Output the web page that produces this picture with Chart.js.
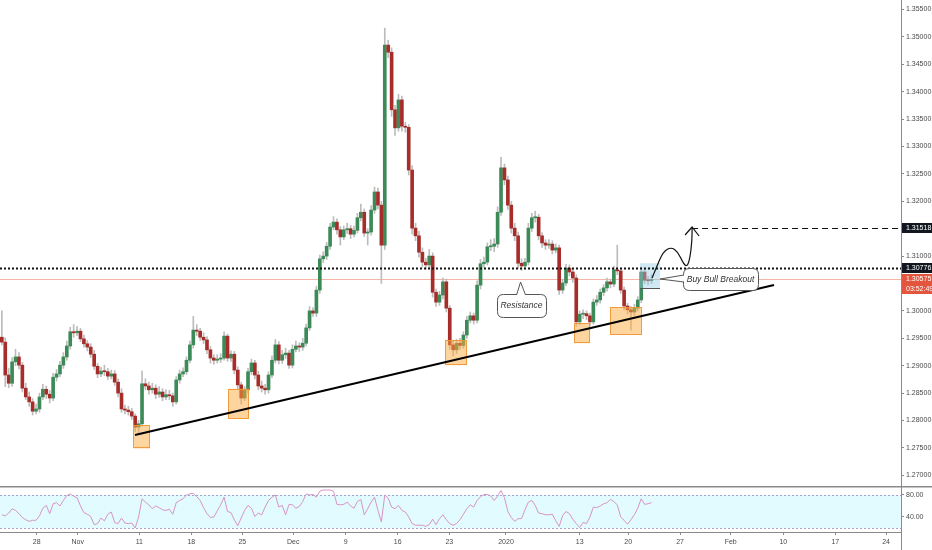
<!DOCTYPE html>
<html>
<head>
<meta charset="utf-8">
<title>GBPUSD 4H</title>
<script src="https://cdn.jsdelivr.net/npm/chart.js@4.4.1/dist/chart.umd.min.js"></script>
<style>
  html, body { margin: 0; padding: 0; background: #fff; }
  .wrap { position: relative; width: 932px; height: 550px; overflow: hidden; }
  #price { position: absolute; left: 0; top: 0; }
  #rsi { position: absolute; left: 0; top: 486px; }
</style>
</head>
<body>
<div class="wrap">
  <canvas id="price" width="932" height="486"></canvas>
  <canvas id="rsi" width="932" height="64"></canvas>
</div>
<script>
// candles (3 per trading day)
const OPEN = [
  1.2952, 1.2943, 1.2883, 1.2868, 1.2907, 1.2916, 1.2901, 1.2859, 1.2843, 1.2834,
  1.2817, 1.2821, 1.2843, 1.2857, 1.2848, 1.2841, 1.2879, 1.2885, 1.2901, 1.2916,
  1.2936, 1.2962, 1.2960, 1.2963, 1.2949, 1.2940, 1.2934, 1.2921, 1.2899, 1.2885,
  1.2890, 1.2889, 1.2881, 1.2885, 1.2870, 1.2850, 1.2821, 1.2819, 1.2816, 1.2808,
  1.2788, 1.2794, 1.2867, 1.2863, 1.2856, 1.2859, 1.2848, 1.2852, 1.2843, 1.2847,
  1.2845, 1.2834, 1.2874, 1.2885, 1.2889, 1.2910, 1.2938, 1.2965, 1.2963, 1.2952,
  1.2947, 1.2929, 1.2914, 1.2910, 1.2912, 1.2914, 1.2954, 1.2914, 1.2921, 1.2892,
  1.2865, 1.2841, 1.2856, 1.2889, 1.2905, 1.2883, 1.2863, 1.2859, 1.2856, 1.2883,
  1.2910, 1.2938, 1.2910, 1.2920, 1.2923, 1.2901, 1.2930, 1.2936, 1.2934, 1.2941,
  1.2969, 1.3000, 1.2996, 1.3038, 1.3095, 1.3100, 1.3118, 1.3153, 1.3162, 1.3148,
  1.3135, 1.3148, 1.3150, 1.3140, 1.3147, 1.3170, 1.3180, 1.3142, 1.3144, 1.3184,
  1.3217, 1.3193, 1.3120, 1.3485, 1.3472, 1.3367, 1.3334, 1.3385, 1.3337, 1.3335,
  1.3257, 1.3151, 1.3137, 1.3107, 1.3089, 1.3084, 1.3100, 1.3034, 1.3016, 1.3029,
  1.3053, 1.3005, 1.2938, 1.2929, 1.2941, 1.2937, 1.2956, 1.2983, 1.2991, 1.2983,
  1.3047, 1.3086, 1.3089, 1.3117, 1.3118, 1.3122, 1.3180, 1.3261, 1.3239, 1.3193,
  1.3151, 1.3137, 1.3087, 1.3082, 1.3089, 1.3151, 1.3170, 1.3171, 1.3137, 1.3124,
  1.3120, 1.3122, 1.3111, 1.3115, 1.3038, 1.3051, 1.3078, 1.3071, 1.3060, 1.2980,
  1.2994, 1.2995, 1.2991, 1.2980, 1.3016, 1.3020, 1.3034, 1.3042, 1.3053, 1.3049,
  1.3075, 1.3073, 1.3038, 1.3009, 1.3002, 1.2998, 1.3005, 1.3020, 1.3071, 1.3056,
  1.3055
];
const HIGH = [
  1.3000, 1.2951, 1.2895, 1.2915, 1.2930, 1.2924, 1.2906, 1.2868, 1.2852, 1.2840,
  1.2830, 1.2850, 1.2866, 1.2863, 1.2855, 1.2886, 1.2893, 1.2908, 1.2924, 1.2945,
  1.2970, 1.2975, 1.2972, 1.2968, 1.2956, 1.2946, 1.2940, 1.2928, 1.2904, 1.2897,
  1.2901, 1.2895, 1.2892, 1.2891, 1.2876, 1.2858, 1.2828, 1.2826, 1.2822, 1.2812,
  1.2800, 1.2890, 1.2876, 1.2870, 1.2868, 1.2865, 1.2862, 1.2858, 1.2856, 1.2855,
  1.2850, 1.2880, 1.2892, 1.2896, 1.2916, 1.2945, 1.2990, 1.2975, 1.2968, 1.2960,
  1.2953, 1.2935, 1.2920, 1.2920, 1.2922, 1.2962, 1.2958, 1.2927, 1.2926, 1.2898,
  1.2870, 1.2862, 1.2895, 1.2912, 1.2910, 1.2890, 1.2872, 1.2866, 1.2889, 1.2918,
  1.2948, 1.2944, 1.2928, 1.2932, 1.2928, 1.2938, 1.2945, 1.2942, 1.2950, 1.2976,
  1.3008, 1.3006, 1.3045, 1.3102, 1.3108, 1.3125, 1.3160, 1.3172, 1.3168, 1.3154,
  1.3155, 1.3160, 1.3156, 1.3155, 1.3178, 1.3195, 1.3186, 1.3150, 1.3192, 1.3226,
  1.3224, 1.3200, 1.3516, 1.3494, 1.3480, 1.3375, 1.3395, 1.3392, 1.3344, 1.3340,
  1.3265, 1.3160, 1.3145, 1.3115, 1.3096, 1.3112, 1.3106, 1.3040, 1.3036, 1.3060,
  1.3058, 1.3010, 1.2945, 1.2948, 1.2950, 1.2962, 1.2990, 1.2998, 1.2996, 1.3055,
  1.3094, 1.3098, 1.3124, 1.3130, 1.3132, 1.3190, 1.3280, 1.3268, 1.3246, 1.3200,
  1.3160, 1.3144, 1.3095, 1.3096, 1.3160, 1.3178, 1.3182, 1.3176, 1.3143, 1.3130,
  1.3130, 1.3128, 1.3122, 1.3120, 1.3058, 1.3085, 1.3084, 1.3077, 1.3066, 1.3000,
  1.3002, 1.3000, 1.2996, 1.3022, 1.3028, 1.3040, 1.3048, 1.3060, 1.3058, 1.3082,
  1.3120, 1.3078, 1.3044, 1.3014, 1.3008, 1.3012, 1.3026, 1.3080, 1.3077, 1.3063,
  1.3066
];
const LOW = [
  1.2938, 1.2862, 1.2860, 1.2862, 1.2900, 1.2894, 1.2852, 1.2838, 1.2826, 1.2810,
  1.2812, 1.2815, 1.2838, 1.2840, 1.2832, 1.2836, 1.2872, 1.2880, 1.2895, 1.2910,
  1.2930, 1.2952, 1.2955, 1.2944, 1.2934, 1.2927, 1.2915, 1.2893, 1.2878, 1.2880,
  1.2882, 1.2875, 1.2876, 1.2864, 1.2843, 1.2815, 1.2812, 1.2810, 1.2802, 1.2780,
  1.2775, 1.2790, 1.2856, 1.2848, 1.2850, 1.2840, 1.2842, 1.2836, 1.2838, 1.2838,
  1.2826, 1.2830, 1.2868, 1.2880, 1.2884, 1.2905, 1.2932, 1.2955, 1.2946, 1.2940,
  1.2922, 1.2905, 1.2903, 1.2905, 1.2906, 1.2910, 1.2908, 1.2908, 1.2885, 1.2858,
  1.2830, 1.2836, 1.2850, 1.2884, 1.2876, 1.2856, 1.2852, 1.2848, 1.2850, 1.2878,
  1.2905, 1.2903, 1.2904, 1.2913, 1.2895, 1.2896, 1.2925, 1.2926, 1.2928, 1.2936,
  1.2964, 1.2990, 1.2990, 1.3032, 1.3088, 1.3094, 1.3112, 1.3148, 1.3140, 1.3120,
  1.3130, 1.3141, 1.3132, 1.3135, 1.3142, 1.3164, 1.3136, 1.3120, 1.3138, 1.3178,
  1.3186, 1.3050, 1.3112, 1.3462, 1.3355, 1.3320, 1.3328, 1.3328, 1.3326, 1.3248,
  1.3140, 1.3128, 1.3098, 1.3080, 1.3076, 1.3078, 1.3025, 1.3008, 1.3010, 1.3022,
  1.2998, 1.2930, 1.2918, 1.2922, 1.2930, 1.2932, 1.2950, 1.2978, 1.2976, 1.2978,
  1.3040, 1.3080, 1.3084, 1.3110, 1.3108, 1.3116, 1.3174, 1.3230, 1.3185, 1.3142,
  1.3128, 1.3078, 1.3074, 1.3076, 1.3084, 1.3145, 1.3162, 1.3130, 1.3116, 1.3112,
  1.3114, 1.3104, 1.3106, 1.3030, 1.3032, 1.3046, 1.3064, 1.3052, 1.2972, 1.2975,
  1.2986, 1.2984, 1.2972, 1.2976, 1.3010, 1.3014, 1.3028, 1.3036, 1.3042, 1.3044,
  1.3066, 1.3032, 1.3002, 1.2994, 1.2965, 1.2992, 1.3000, 1.3015, 1.3050, 1.3048,
  1.3050
];
const CLOSE = [
  1.2943, 1.2883, 1.2868, 1.2907, 1.2916, 1.2901, 1.2859, 1.2843, 1.2834, 1.2817,
  1.2821, 1.2843, 1.2857, 1.2848, 1.2841, 1.2879, 1.2885, 1.2901, 1.2916, 1.2936,
  1.2962, 1.2960, 1.2963, 1.2949, 1.2940, 1.2934, 1.2921, 1.2899, 1.2885, 1.2890,
  1.2889, 1.2881, 1.2885, 1.2870, 1.2850, 1.2821, 1.2819, 1.2816, 1.2808, 1.2788,
  1.2794, 1.2867, 1.2863, 1.2856, 1.2859, 1.2848, 1.2852, 1.2843, 1.2847, 1.2845,
  1.2834, 1.2874, 1.2885, 1.2889, 1.2910, 1.2938, 1.2965, 1.2963, 1.2952, 1.2947,
  1.2929, 1.2914, 1.2910, 1.2912, 1.2914, 1.2954, 1.2914, 1.2921, 1.2892, 1.2865,
  1.2841, 1.2856, 1.2889, 1.2905, 1.2883, 1.2863, 1.2859, 1.2856, 1.2883, 1.2910,
  1.2938, 1.2910, 1.2920, 1.2923, 1.2901, 1.2930, 1.2936, 1.2934, 1.2941, 1.2969,
  1.3000, 1.2996, 1.3038, 1.3095, 1.3100, 1.3118, 1.3153, 1.3162, 1.3148, 1.3135,
  1.3148, 1.3150, 1.3140, 1.3147, 1.3170, 1.3180, 1.3142, 1.3144, 1.3184, 1.3217,
  1.3193, 1.3120, 1.3485, 1.3472, 1.3367, 1.3334, 1.3385, 1.3337, 1.3335, 1.3257,
  1.3151, 1.3137, 1.3107, 1.3089, 1.3084, 1.3100, 1.3034, 1.3016, 1.3029, 1.3053,
  1.3005, 1.2938, 1.2929, 1.2941, 1.2937, 1.2956, 1.2983, 1.2991, 1.2983, 1.3047,
  1.3086, 1.3089, 1.3117, 1.3118, 1.3122, 1.3180, 1.3261, 1.3239, 1.3193, 1.3151,
  1.3137, 1.3087, 1.3082, 1.3089, 1.3151, 1.3170, 1.3171, 1.3137, 1.3124, 1.3120,
  1.3122, 1.3111, 1.3115, 1.3038, 1.3051, 1.3078, 1.3071, 1.3060, 1.2980, 1.2994,
  1.2995, 1.2991, 1.2980, 1.3016, 1.3020, 1.3034, 1.3042, 1.3053, 1.3049, 1.3075,
  1.3073, 1.3038, 1.3009, 1.3002, 1.2998, 1.3005, 1.3020, 1.3071, 1.3056, 1.3055,
  1.30575
];
const RSI = [
  44, 42, 47, 55, 52, 46, 39, 35, 32, 34,
  34, 42, 56, 61, 46, 64, 66, 60, 70, 79,
  82, 78, 75, 60, 48, 45, 41, 26, 28, 38,
  33, 45, 49, 30, 28, 38, 29, 28, 29, 20,
  40, 73, 67, 62, 55, 60, 57, 53, 52, 54,
  45, 66, 70, 73, 80, 82, 83, 77, 70, 57,
  46, 39, 40, 51, 62, 76, 50, 48, 35, 24,
  38, 52, 61, 56, 41, 47, 44, 58, 70, 76,
  80, 58, 61, 44, 63, 62, 56, 59, 68, 82,
  80, 81, 76, 87, 89, 89, 89, 87, 63, 62,
  63, 67, 60, 56, 68, 72, 44, 55, 67, 76,
  52, 31, 80, 74, 58, 55, 61, 52, 49, 40,
  28, 25, 25, 25, 23, 26, 36, 26, 37, 44,
  35, 28, 25, 28, 35, 45, 55, 62, 58, 70,
  77, 81, 81, 78, 70, 78, 88, 75, 50, 39,
  32, 37, 37, 53, 67, 70, 61, 47, 46, 44,
  44, 45, 33, 23, 42, 50, 46, 36, 28, 21,
  30, 28, 40, 58, 57, 60, 64, 66, 72, 68,
  62, 40, 34, 27, 35, 44, 56, 73, 63, 64,
  66
];

// x axis in trading days (0 = Mon 21 Oct 2019)
const CANDLE_START = 1.6;
const CANDLES_PER_DAY = 3;
const X_MIN = 1.42;
const X_MAX = 89.26;
const TICK_DAYS = [5, 9, 15, 20.07, 25.04, 30, 35.12, 40.19, 45.22, 50.75, 57.94, 62.67, 67.72, 72.66, 77.79, 82.86, 87.8];
const TICK_LABELS = ['28', 'Nov', '11', '18', '25', 'Dec', '9', '16', '23', '2020', '13', '20', '27', 'Feb', '10', '17', '24'];

const Y_MIN = 1.26805;
const Y_MAX = 1.35673;
const PRICE_TICKS = [1.27, 1.275, 1.28, 1.285, 1.29, 1.295, 1.3, 1.305, 1.31, 1.315, 1.32, 1.325, 1.33, 1.335, 1.34, 1.345, 1.35, 1.355];
const RSI_MIN = 12.7;
const RSI_MAX = 94.5;
const RSI_TICKS = [40, 80];
const RSI_BAND = [20, 80];

const RESISTANCE = 1.30776;
const TARGET = 1.31518;
const LAST_PRICE = 1.30575;
const COUNTDOWN = '03:52:49';

// drawings: [day, price]
const TRENDLINE = [[14.58, 1.27736], [76.88, 1.30473]];
const ZONES = [
  [14.4, 16.05, 1.2749, 1.2791],
  [23.65, 25.7, 1.2803, 1.2858],
  [44.8, 46.95, 1.2901, 1.2947],
  [57.4, 58.95, 1.2941, 1.2978],
  [60.9, 64.0, 1.2956, 1.3007]
];
const ENTRY_BOX = [63.82, 65.77, 1.3042, 1.3087];
const PROJECTION = [
  [64.99, 1.3060], [65.47, 1.30819], [66.06, 1.31075], [66.84, 1.31166], [67.52, 1.31075],
  [68.01, 1.30874], [68.40, 1.30801], [68.69, 1.30966], [68.89, 1.31294], [68.89, 1.31531]
];
const RESISTANCE_NOTE = { text: 'Resistance', at: [52.17, 1.30527] };
const BREAKOUT_NOTE = { text: 'Buy Bull Breakout', at: [65.77, 1.30582] };

const UP = '#3c8a57';
const DOWN = '#a62d29';
const WICK = '#bcbcbc';
const AXIS = '#8a8a8a';
const LABEL = '#4a4a4a';
const FONT = '"Liberation Sans", Arial, sans-serif';

Chart.defaults.font.family = FONT;

const candleDay = (i) => CANDLE_START + i / CANDLES_PER_DAY;

function hline(ctx, x0, x1, y) {
  const yy = Math.round(y) + 0.5;
  ctx.beginPath();
  ctx.moveTo(x0, yy);
  ctx.lineTo(x1, yy);
  ctx.stroke();
}

function roundRect(ctx, l, t, r, b, rad) {
  ctx.beginPath();
  ctx.moveTo(l + rad, t);
  ctx.lineTo(r - rad, t);
  ctx.quadraticCurveTo(r, t, r, t + rad);
  ctx.lineTo(r, b - rad);
  ctx.quadraticCurveTo(r, b, r - rad, b);
  ctx.lineTo(l + rad, b);
  ctx.quadraticCurveTo(l, b, l, b - rad);
  ctx.lineTo(l, t + rad);
  ctx.quadraticCurveTo(l, t, l + rad, t);
  ctx.closePath();
}

// speech bubble: box in px, pointer from two base points to the tip
function bubble(ctx, tip, box, base, text) {
  ctx.save();
  ctx.lineWidth = 1;
  ctx.strokeStyle = '#555';
  ctx.fillStyle = '#fff';
  roundRect(ctx, box.l + 0.5, box.t + 0.5, box.r + 0.5, box.b + 0.5, 6);
  ctx.fill();
  ctx.stroke();
  ctx.beginPath();
  ctx.moveTo(base[0][0], base[0][1]);
  ctx.lineTo(tip.x, tip.y);
  ctx.lineTo(base[1][0], base[1][1]);
  ctx.closePath();
  ctx.fill();
  ctx.beginPath();
  ctx.moveTo(base[0][0], base[0][1]);
  ctx.lineTo(tip.x, tip.y);
  ctx.lineTo(base[1][0], base[1][1]);
  ctx.stroke();
  ctx.fillStyle = '#333';
  ctx.font = 'italic 8.5px ' + FONT;
  ctx.textAlign = 'center';
  ctx.textBaseline = 'middle';
  ctx.fillText(text, (box.l + box.r) / 2, (box.t + box.b) / 2 + 0.5);
  ctx.restore();
}

const priceOverlay = {
  id: 'priceOverlay',
  beforeDatasetsDraw(chart) {
    const { ctx, chartArea, scales: { y } } = chart;
    ctx.save();
    ctx.strokeStyle = '#f6b4a4';
    ctx.lineWidth = 1;
    hline(ctx, chartArea.left, chartArea.right, y.getPixelForValue(LAST_PRICE));
    ctx.restore();
  },
  afterDatasetsDraw(chart) {
    const { ctx, chartArea, scales: { x, y } } = chart;
    const px = (v) => x.getPixelForValue(v);
    const py = (v) => y.getPixelForValue(v);
    ctx.save();

    ZONES.forEach(([d0, d1, p0, p1]) => {
      const l = px(d0), r = px(d1), t = py(p1), b = py(p0);
      ctx.fillStyle = 'rgba(255, 172, 64, 0.5)';
      ctx.fillRect(l, t, r - l, b - t);
      ctx.strokeStyle = 'rgba(240, 150, 50, 0.9)';
      ctx.lineWidth = 1;
      ctx.strokeRect(Math.round(l) + 0.5, Math.round(t) + 0.5, Math.round(r - l) - 1, Math.round(b - t) - 1);
    });

    // entry box
    {
      const [d0, d1, p0, p1] = ENTRY_BOX;
      const l = px(d0), r = px(d1), t = py(p1), b = py(p0);
      ctx.fillStyle = 'rgba(150, 205, 230, 0.45)';
      ctx.fillRect(l, t, r - l, b - t);
      ctx.strokeStyle = '#555';
      ctx.lineWidth = 1;
      hline(ctx, l, r, b);
    }

    // resistance level
    ctx.strokeStyle = '#111';
    ctx.lineWidth = 2;
    ctx.setLineDash([2, 2]);
    hline(ctx, chartArea.left, chartArea.right, py(RESISTANCE));

    // target level
    const tip = PROJECTION[PROJECTION.length - 1];
    ctx.lineWidth = 1.2;
    ctx.setLineDash([6, 4]);
    hline(ctx, px(tip[0]), chartArea.right, py(TARGET));
    ctx.setLineDash([]);

    // trendline
    ctx.strokeStyle = '#000';
    ctx.lineWidth = 2;
    ctx.beginPath();
    ctx.moveTo(px(TRENDLINE[0][0]), py(TRENDLINE[0][1]));
    ctx.lineTo(px(TRENDLINE[1][0]), py(TRENDLINE[1][1]));
    ctx.stroke();

    // projected path
    const pts = PROJECTION.map(([d, p]) => ({ x: px(d), y: py(p) }));
    ctx.lineWidth = 1.2;
    ctx.strokeStyle = '#111';
    ctx.beginPath();
    ctx.moveTo(pts[0].x, pts[0].y);
    for (let i = 1; i < pts.length - 1; i++) {
      const mx = (pts[i].x + pts[i + 1].x) / 2;
      const my = (pts[i].y + pts[i + 1].y) / 2;
      ctx.quadraticCurveTo(pts[i].x, pts[i].y, mx, my);
    }
    ctx.lineTo(pts[pts.length - 1].x, pts[pts.length - 1].y);
    ctx.stroke();
    const end = pts[pts.length - 1];
    ctx.beginPath();
    ctx.moveTo(end.x - 7, end.y + 8);
    ctx.lineTo(end.x, end.y);
    ctx.lineTo(end.x + 7, end.y + 9);
    ctx.stroke();

    // notes
    const r = { x: px(RESISTANCE_NOTE.at[0]), y: py(RESISTANCE_NOTE.at[1]) };
    bubble(ctx, r,
      { l: Math.round(r.x - 24), r: Math.round(r.x + 25), t: Math.round(r.y + 12), b: Math.round(r.y + 35) },
      [[r.x - 4, r.y + 13], [r.x + 5, r.y + 13]], RESISTANCE_NOTE.text);

    const b = { x: px(BREAKOUT_NOTE.at[0]), y: py(BREAKOUT_NOTE.at[1]) };
    bubble(ctx, b,
      { l: Math.round(b.x + 23), r: Math.round(b.x + 98), t: Math.round(b.y - 11), b: Math.round(b.y + 11) },
      [[b.x + 24, b.y - 4], [b.x + 24, b.y + 3]], BREAKOUT_NOTE.text);

    ctx.restore();
  },
  afterDraw(chart) {
    const { ctx, chartArea, scales: { y } } = chart;
    const tag = (yy, text, bg) => {
      ctx.fillStyle = bg;
      ctx.fillRect(chartArea.right + 1, Math.round(yy - 5), chart.width - chartArea.right - 1, 10);
      ctx.fillStyle = '#fff';
      ctx.font = '7px ' + FONT;
      ctx.textBaseline = 'middle';
      ctx.textAlign = 'left';
      ctx.fillText(text, chartArea.right + 5, Math.round(yy) + 0.5);
    };
    ctx.save();
    tag(y.getPixelForValue(TARGET), TARGET.toFixed(5), '#131722');
    tag(y.getPixelForValue(RESISTANCE), RESISTANCE.toFixed(5), '#131722');
    tag(y.getPixelForValue(LAST_PRICE), LAST_PRICE.toFixed(5), '#e4553d');
    tag(y.getPixelForValue(LAST_PRICE) + 10, COUNTDOWN, '#e4553d');
    ctx.restore();
  }
};

const rsiOverlay = {
  id: 'rsiOverlay',
  beforeDatasetsDraw(chart) {
    const { ctx, chartArea: a, scales: { y } } = chart;
    const top = y.getPixelForValue(RSI_BAND[1]);
    const bottom = y.getPixelForValue(RSI_BAND[0]);
    ctx.save();
    ctx.fillStyle = '#e2fbfe';
    ctx.fillRect(a.left, top, a.right - a.left, bottom - top);
    ctx.strokeStyle = '#a3a6c6';
    ctx.lineWidth = 1;
    ctx.setLineDash([2, 2]);
    hline(ctx, a.left, a.right, top);
    hline(ctx, a.left, a.right, bottom);
    ctx.restore();
  },
  afterDraw(chart) {
    const { ctx, chartArea: a } = chart;
    ctx.save();
    ctx.strokeStyle = AXIS;
    ctx.lineWidth = 1.5;
    ctx.beginPath();
    ctx.moveTo(0, 0.75);
    ctx.lineTo(chart.width, 0.75);
    ctx.stroke();
    ctx.lineWidth = 1;
    ctx.beginPath();
    ctx.moveTo(Math.round(a.right) + 0.5, 0);
    ctx.lineTo(Math.round(a.right) + 0.5, chart.height);
    ctx.stroke();
    ctx.restore();
  }
};

const bodies = OPEN.map((o, i) => ({ x: candleDay(i), y: [o, CLOSE[i]] }));
const wicks = LOW.map((l, i) => ({ x: candleDay(i), y: [l, HIGH[i]] }));
const bodyColors = OPEN.map((o, i) => (CLOSE[i] >= o ? UP : DOWN));

new Chart(document.getElementById('price'), {
  type: 'bar',
  data: {
    datasets: [
      { data: bodies, backgroundColor: bodyColors, barThickness: 3, minBarLength: 1, grouped: false, borderWidth: 0 },
      { data: wicks, backgroundColor: WICK, barThickness: 1, grouped: false, borderWidth: 0 }
    ]
  },
  options: {
    responsive: false,
    animation: false,
    events: [],
    layout: { padding: 0 },
    plugins: { legend: { display: false }, tooltip: { enabled: false } },
    scales: {
      x: { type: 'linear', display: false, min: X_MIN, max: X_MAX, offset: false, bounds: 'data' },
      y: {
        position: 'right',
        min: Y_MIN,
        max: Y_MAX,
        bounds: 'data',
        afterBuildTicks: (s) => { s.ticks = PRICE_TICKS.map((v) => ({ value: v })); },
        afterFit: (s) => { s.width = 31; s.paddingTop = 0; s.paddingBottom = 0; },
        ticks: { callback: (v) => Number(v).toFixed(5), font: { size: 7 }, color: LABEL, padding: 2 },
        grid: { drawOnChartArea: false, drawTicks: true, tickLength: 3, color: AXIS },
        border: { display: true, color: AXIS }
      }
    }
  },
  plugins: [priceOverlay]
});

new Chart(document.getElementById('rsi'), {
  type: 'line',
  data: {
    datasets: [{
      data: RSI.map((v, i) => ({ x: candleDay(i), y: v })),
      borderColor: '#d894c6',
      borderWidth: 1,
      pointRadius: 0,
      tension: 0
    }]
  },
  options: {
    responsive: false,
    animation: false,
    events: [],
    layout: { padding: { top: 1 } },
    plugins: { legend: { display: false }, tooltip: { enabled: false } },
    scales: {
      x: {
        type: 'linear',
        min: X_MIN,
        max: X_MAX,
        offset: false,
        bounds: 'data',
        afterBuildTicks: (s) => { s.ticks = TICK_DAYS.map((v) => ({ value: v })); },
        afterFit: (s) => { s.height = 18; s.paddingLeft = 0; s.paddingRight = 0; },
        ticks: { callback: (v, i) => TICK_LABELS[i], autoSkip: false, maxRotation: 0, font: { size: 7 }, color: LABEL, padding: 3 },
        grid: { drawOnChartArea: false, drawTicks: true, tickLength: 3, color: AXIS },
        border: { display: true, color: AXIS }
      },
      y: {
        position: 'right',
        min: RSI_MIN,
        max: RSI_MAX,
        bounds: 'data',
        afterBuildTicks: (s) => { s.ticks = RSI_TICKS.map((v) => ({ value: v })); },
        afterFit: (s) => { s.width = 31; s.paddingTop = 0; s.paddingBottom = 0; },
        ticks: { callback: (v) => Number(v).toFixed(2), font: { size: 7 }, color: LABEL, padding: 2 },
        grid: { drawOnChartArea: false, drawTicks: true, tickLength: 3, color: AXIS },
        border: { display: true, color: AXIS }
      }
    }
  },
  plugins: [rsiOverlay]
});
</script>
</body>
</html>
